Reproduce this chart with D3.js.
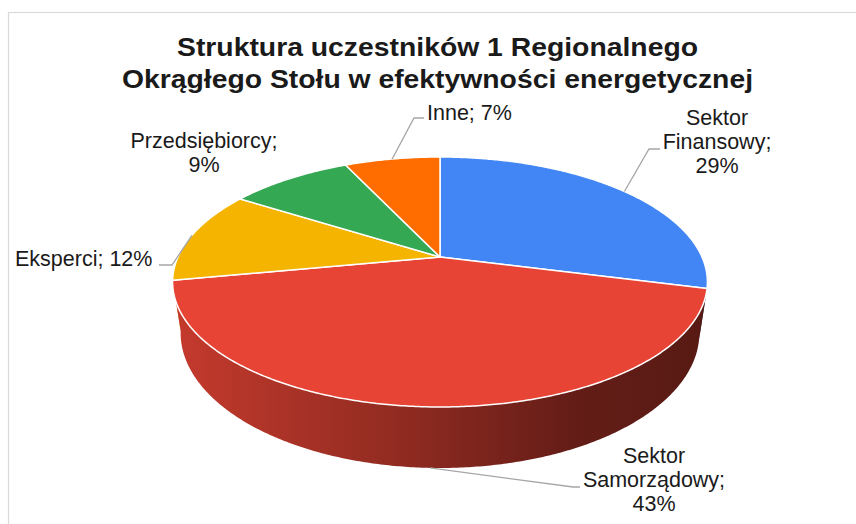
<!DOCTYPE html>
<html>
<head>
<meta charset="utf-8">
<script src="https://cdn.jsdelivr.net/npm/d3@7"></script>
<style>
  body { margin: 0; background: #fff; }
  text { font-family: "Liberation Sans", Arial, sans-serif; fill: #1a1a1a; }
</style>
</head>
<body>
<svg id="chart" width="856" height="524"></svg>
<script>
// data
var categories = ["Sektor Finansowy", "Sektor Samorządowy", "Eksperci", "Przedsiębiorcy", "Inne"]
var shares = [29, 43, 12, 9, 7]
var colors = ["#4285f4", "#e84435", "#f4b400", "#34a853", "#ff6d00"]
var titleLines = ["Struktura uczestników 1 Regionalnego", "Okrągłego Stołu w efektywności energetycznej"]

// label layout (tokens per line, positions, leader elbows)
var labelLayout = [
  { wrap: [1, 1, 1], x: 717, y: 125, anchor: "middle", elbow: [649, 149], end: [660, 149] },
  { wrap: [1, 1, 1], x: 654, y: 463, anchor: "middle", elbow: [573, 487], end: [580, 487], onWall: true },
  { wrap: [2], x: 15, y: 266, anchor: "start", elbow: [172, 265], end: [159, 265] },
  { wrap: [1, 1], x: 204, y: 148, anchor: "middle" },
  { wrap: [2], x: 427, y: 120, anchor: "start", elbow: [414, 118], end: [424, 118] }
]

var width = 856, height = 524
var cx = 440, cy = 257, rx = 262, ry = 120, k = -0.2, depth = 48.8, shrink = 0.97

var svg = d3.select("#chart")

// chart frame
svg.append("rect")
    .attr("x", 8.5).attr("y", 12.5)
    .attr("width", width + 10).attr("height", height + 10)
    .attr("fill", "none").attr("stroke", "#d9d9d9").attr("stroke-width", 1.2)

// perspective projection of the disc
function topPt(a) {
  var u = Math.sin(a), v = -Math.cos(a), s = 1 / (1 + k * v)
  return [cx + rx * u * s, cy + ry * v * s]
}
function botPt(a) {
  var u = Math.sin(a), v = -Math.cos(a), s = 1 / (1 + k * v)
  return [cx + rx * u * s * shrink, cy + ry * v * s + depth * s]
}

var pie = d3.pie().sort(null).value(function(d) { return d })
var arcs = pie(shares)
var line = d3.line()
var step = Math.PI / 360

var defs = svg.append("defs")
arcs.forEach(function(d, i) {
  var g = defs.append("linearGradient")
      .attr("id", "wall" + i)
      .attr("gradientUnits", "userSpaceOnUse")
      .attr("x1", 172).attr("x2", 707).attr("y1", 0).attr("y2", 0)
  ;[[0, 0.15], [0.4, 0.36], [0.75, 0.57], [1, 0.62]].forEach(function(s) {
    g.append("stop").attr("offset", s[0]).attr("stop-color", d3.interpolateRgb(colors[i], "#000")(s[1]))
  })
})

// side walls, only the front part, far ones first
var walls = []
arcs.forEach(function(d, i) {
  var a0 = Math.max(d.startAngle, Math.PI * 0.4)
  var a1 = Math.min(d.endAngle, Math.PI * 1.6)
  if (a1 <= a0) return
  var n = Math.max(2, Math.ceil((a1 - a0) / step))
  var top = [], bot = []
  for (var j = 0; j <= n; j++) {
    var a = a0 + (a1 - a0) * j / n
    top.push(topPt(a))
    bot.push(botPt(a))
  }
  walls.push({ i: i, v: -Math.cos((a0 + a1) / 2), pts: top.concat(bot.reverse()) })
})
walls.sort(function(p, q) { return p.v - q.v })

svg.append("g").attr("class", "walls")
  .selectAll("path")
  .data(walls)
  .enter().append("path")
    .attr("d", function(w) { return line(w.pts) + "Z" })
    .attr("fill", function(w) { return "url(#wall" + w.i + ")" })

// top faces
svg.append("g").attr("class", "tops")
  .selectAll("path")
  .data(arcs)
  .enter().append("path")
    .attr("d", function(d) {
      var pts = [[cx, cy]]
      var n = Math.max(2, Math.ceil((d.endAngle - d.startAngle) / step))
      for (var j = 0; j <= n; j++) pts.push(topPt(d.startAngle + (d.endAngle - d.startAngle) * j / n))
      return line(pts) + "Z"
    })
    .attr("fill", function(d, i) { return colors[i] })
    .attr("stroke", "#fff")
    .attr("stroke-width", 1.5)
    .attr("stroke-linejoin", "round")

// leader lines
arcs.forEach(function(d, i) {
  var L = labelLayout[i]
  if (!L.elbow) return
  var mid = (d.startAngle + d.endAngle) / 2
  var p = L.onWall ? botPt(mid) : topPt(mid)
  svg.append("path")
    .attr("d", line([p, L.elbow, L.end]))
    .attr("fill", "none")
    .attr("stroke", "#a6a6a6")
    .attr("stroke-width", 1.3)
})

// data labels
arcs.forEach(function(d, i) {
  var L = labelLayout[i]
  var tokens = (categories[i] + ";").split(" ").concat([shares[i] + "%"])
  var lines = [], pos = 0
  L.wrap.forEach(function(c) { lines.push(tokens.slice(pos, pos + c).join(" ")); pos += c })
  var t = svg.append("text")
      .attr("text-anchor", L.anchor)
      .attr("font-size", 21.5)
  lines.forEach(function(s, j) {
    t.append("tspan").attr("x", L.x).attr("y", L.y + j * 24).text(s)
  })
})

// title
var titleW = [521, 631]
titleLines.forEach(function(s, j) {
  svg.append("text")
    .attr("x", 437.5).attr("y", 56 + j * 32)
    .attr("text-anchor", "middle")
    .attr("font-size", 25)
    .attr("font-weight", "bold")
    .attr("textLength", titleW[j])
    .attr("lengthAdjust", "spacingAndGlyphs")
    .text(s)
})
</script>
</body>
</html>
